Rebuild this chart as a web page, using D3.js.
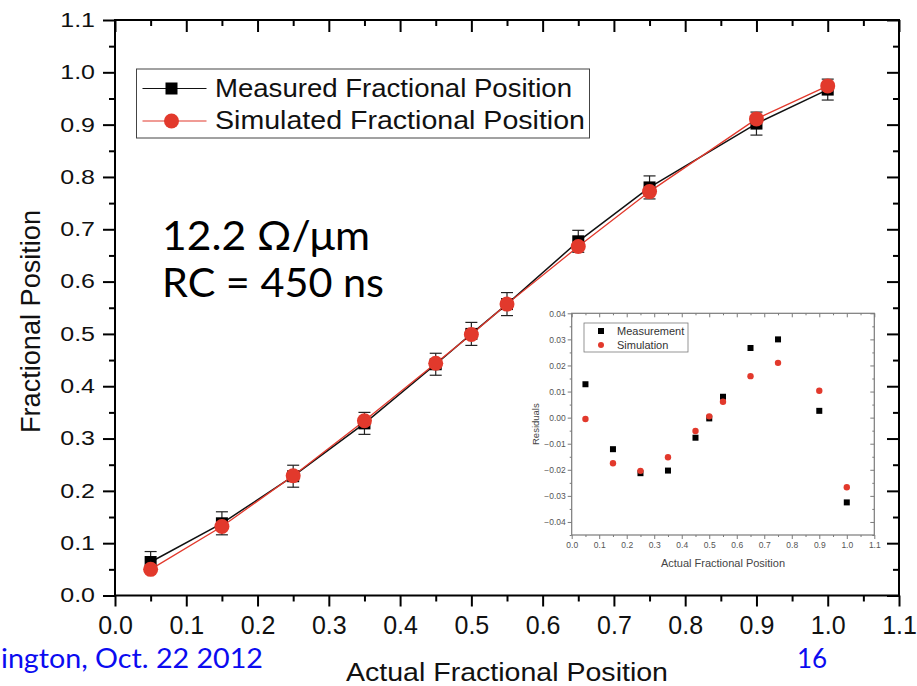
<!DOCTYPE html>
<html>
<head>
<meta charset="utf-8">
<script src="https://cdn.jsdelivr.net/npm/d3@7"></script>
<style>
  body { margin: 0; background: #fff; }
  svg { display: block; }
</style>
</head>
<body>
<div id="chart"></div>
<script>
// actual fractional positions (x) shared by every series
const positions = [0.05, 0.15, 0.25, 0.35, 0.45, 0.5, 0.55, 0.65, 0.75, 0.9, 1.0];
const measured = [0.064, 0.138, 0.228, 0.329, 0.442, 0.500, 0.557, 0.677, 0.780, 0.902, 0.967];
const measuredError = [0.020, 0.022, 0.021, 0.021, 0.021, 0.022, 0.022, 0.021, 0.022, 0.022, 0.020];
const simulated = [0.050, 0.132, 0.229, 0.334, 0.444, 0.499, 0.557, 0.667, 0.772, 0.911, 0.974];
const residualMeasured = [0.0128, -0.0121, -0.0213, -0.0203, -0.0077, -0.0003, 0.0080, 0.0267, 0.0300, 0.0026, -0.0325];
const residualSimulated = [-0.0005, -0.0175, -0.0204, -0.0152, -0.0051, 0.0005, 0.0061, 0.0159, 0.0210, 0.0103, -0.0267];

const mainTicks = [0, 0.1, 0.2, 0.3, 0.4, 0.5, 0.6, 0.7, 0.8, 0.9, 1.0, 1.1];
const mainMinor = [0.05, 0.15, 0.25, 0.35, 0.45, 0.55, 0.65, 0.75, 0.85, 0.95, 1.05];
const insetXTicks = mainTicks;
const insetXMinor = mainMinor;
const insetYTicks = [-0.04, -0.03, -0.02, -0.01, 0, 0.01, 0.02, 0.03, 0.04];
const insetYMinor = [-0.045, -0.035, -0.025, -0.015, -0.005, 0.005, 0.015, 0.025, 0.035];

const legendNames = ["Measured Fractional Position", "Simulated Fractional Position"];
const insetLegendNames = ["Measurement", "Simulation"];

const red = "#e2392c";
const font = "'Liberation Sans', Arial, Helvetica, sans-serif";
const slideFont = "Lato, 'Open Sans', sans-serif";

const svg = d3.select("#chart").append("svg")
    .attr("width", 917)
    .attr("height", 686)
    .style("font-family", font);

// draws one side of a frame: minor ticks first, then major ticks (+labels)
function side(g, axisFn, scale, major, minor, len, minorLen, fmt, color, width) {
    g.append("g").call(axisFn(scale).tickValues(minor).tickSize(minorLen).tickFormat(""));
    const a = g.append("g").call(axisFn(scale).tickValues(major).tickSize(len).tickFormat(fmt || ""));
    g.selectAll(".domain").remove();
    g.selectAll("line").attr("stroke", color).attr("stroke-width", width);
    return a;
}

// ---------- main chart ----------
const x = d3.scaleLinear().domain([0, 1.1]).range([115, 899]);
const y = d3.scaleLinear().domain([0, 1.1]).range([595.5, 20]);

const main = svg.append("g");

const bottom = side(main.append("g").attr("transform", `translate(0,${y(0)})`),
    d3.axisBottom, x, mainTicks, mainMinor, 11, 6, d3.format(".1f"), "#000", 2);
bottom.selectAll("text").attr("y", 21).style("font-size", "25px").attr("fill", "#111");
side(main.append("g").attr("transform", `translate(0,${y(1.1)})`),
    d3.axisBottom, x, mainTicks, mainMinor, 12, 6, null, "#000", 2);
const left = side(main.append("g").attr("transform", `translate(${x(0)},0)`),
    d3.axisLeft, y, mainTicks, mainMinor, 12, 6, d3.format(".1f"), "#000", 2);
left.selectAll("text").attr("x", -16).attr("transform", "scale(1.25,1)")
    .style("font-size", "20px").attr("fill", "#111");
side(main.append("g").attr("transform", `translate(${x(1.1)},0)`),
    d3.axisLeft, y, mainTicks, mainMinor, 12, 6, null, "#000", 2);

main.append("rect")
    .attr("x", x(0)).attr("y", y(1.1))
    .attr("width", x(1.1) - x(0)).attr("height", y(0) - y(1.1))
    .attr("fill", "none").attr("stroke", "#000").attr("stroke-width", 2);

main.append("text")
    .attr("transform", "translate(40,321.5) rotate(-90)")
    .attr("text-anchor", "middle")
    .attr("textLength", 223).attr("lengthAdjust", "spacingAndGlyphs")
    .style("font-size", "27px").attr("fill", "#111")
    .text("Fractional Position");
main.append("text")
    .attr("x", 507).attr("y", 681)
    .attr("text-anchor", "middle")
    .attr("textLength", 322).attr("lengthAdjust", "spacingAndGlyphs")
    .style("font-size", "26px").attr("fill", "#111")
    .text("Actual Fractional Position");

const measuredPts = positions.map((p, i) => ({ x: p, y: measured[i], e: measuredError[i] }));
const simulatedPts = positions.map((p, i) => ({ x: p, y: simulated[i] }));
const line = d3.line().x(d => x(d.x)).y(d => y(d.y));

main.append("path").datum(measuredPts).attr("d", line)
    .attr("fill", "none").attr("stroke", "#111").attr("stroke-width", 1.5);
main.append("path").datum(simulatedPts).attr("d", line)
    .attr("fill", "none").attr("stroke", red).attr("stroke-width", 1.3);

const bars = main.append("g").attr("stroke", "#222").attr("stroke-width", 1.2);
for (let d of measuredPts) {
    bars.append("line").attr("x1", x(d.x)).attr("x2", x(d.x))
        .attr("y1", y(d.y + d.e)).attr("y2", y(d.y - d.e));
    for (let v of [d.y + d.e, d.y - d.e]) {
        bars.append("line").attr("x1", x(d.x) - 6).attr("x2", x(d.x) + 6)
            .attr("y1", y(v)).attr("y2", y(v));
    }
}

main.append("g").selectAll("rect").data(measuredPts).join("rect")
    .attr("x", d => x(d.x) - 6).attr("y", d => y(d.y) - 6)
    .attr("width", 12).attr("height", 12).attr("fill", "#000");
main.append("g").selectAll("circle").data(simulatedPts).join("circle")
    .attr("cx", d => x(d.x)).attr("cy", d => y(d.y))
    .attr("r", 7.5).attr("fill", red);

// legend
const legend = main.append("g").attr("transform", "translate(136.5,69)");
legend.append("rect").attr("width", 453).attr("height", 69)
    .attr("fill", "#fff").attr("stroke", "#444").attr("stroke-width", 1);
legendNames.forEach((name, i) => {
    const row = legend.append("g").attr("transform", `translate(0,${19.5 + i * 32.5})`);
    row.append("line").attr("x1", 6).attr("x2", 70)
        .attr("stroke", i ? red : "#111").attr("stroke-width", 1.2);
    if (i) row.append("circle").attr("cx", 35).attr("r", 7.5).attr("fill", red);
    else row.append("rect").attr("x", 29).attr("y", -6).attr("width", 12).attr("height", 12).attr("fill", "#000");
    row.append("text").attr("x", 78.5).attr("y", 8)
        .attr("textLength", i ? 370 : 357).attr("lengthAdjust", "spacingAndGlyphs")
        .style("font-size", "26px").attr("fill", "#111").text(name);
});

// slide annotations
const note = svg.append("g").style("font-family", slideFont).attr("fill", "#000").style("font-size", "40px");
note.append("text").attr("x", 162).attr("y", 250)
    .attr("textLength", 208).attr("lengthAdjust", "spacingAndGlyphs").text("12.2 Ω/μm");
note.append("text").attr("x", 162).attr("y", 297)
    .attr("textLength", 222).attr("lengthAdjust", "spacingAndGlyphs").text("RC = 450 ns");

const footer = svg.append("g").style("font-family", slideFont).attr("fill", "#0b0bf0").style("font-size", "26px");
footer.append("text").attr("x", 1).attr("y", 668)
    .attr("textLength", 262).attr("lengthAdjust", "spacingAndGlyphs").text("ington, Oct. 22 2012");
footer.append("text").attr("x", 797).attr("y", 668).text("16");

// ---------- inset residuals ----------
const ix = d3.scaleLinear().domain([0, 1.1]).range([571.7, 874.3]);
const iy = d3.scaleLinear().domain([-0.045, 0.04]).range([535, 313.3]);
const inset = svg.append("g");
const gray = "#7a7a7a";

inset.append("rect").attr("x", 527).attr("y", 303).attr("width", 353).attr("height", 270).attr("fill", "#fff");

const ib = side(inset.append("g").attr("transform", `translate(0,${iy(-0.045)})`),
    d3.axisBottom, ix, insetXTicks, insetXMinor, 4, 2, d3.format(".1f"), gray, 1);
ib.selectAll("text").attr("y", 7).style("font-size", "8.5px").attr("fill", "#555");
side(inset.append("g").attr("transform", `translate(0,${iy(0.04)})`),
    d3.axisBottom, ix, insetXTicks, insetXMinor, 4, 2, null, gray, 1);
const il = side(inset.append("g").attr("transform", `translate(${ix(0)},0)`),
    d3.axisLeft, iy, insetYTicks, insetYMinor, 4, 2, d3.format(".2f"), gray, 1);
il.selectAll("text").attr("x", -6).style("font-size", "8.5px").attr("fill", "#555");
side(inset.append("g").attr("transform", `translate(${ix(1.1)},0)`),
    d3.axisLeft, iy, insetYTicks, insetYMinor, 4, 2, null, gray, 1);

inset.append("rect")
    .attr("x", ix(0)).attr("y", iy(0.04))
    .attr("width", ix(1.1) - ix(0)).attr("height", iy(-0.045) - iy(0.04))
    .attr("fill", "none").attr("stroke", gray).attr("stroke-width", 1.2);

inset.append("text")
    .attr("transform", `translate(539,${(iy(0.04) + iy(-0.045)) / 2}) rotate(-90)`)
    .attr("text-anchor", "middle").style("font-size", "9.5px").attr("fill", "#444")
    .text("Residuals");
inset.append("text")
    .attr("x", (ix(0) + ix(1.1)) / 2).attr("y", 567)
    .attr("text-anchor", "middle").style("font-size", "11px").attr("fill", "#444")
    .text("Actual Fractional Position");

inset.append("g").selectAll("rect").data(positions).join("rect")
    .attr("x", (d) => ix(d) - 3).attr("y", (d, i) => iy(residualMeasured[i]) - 3)
    .attr("width", 6).attr("height", 6).attr("fill", "#000");
inset.append("g").selectAll("circle").data(positions).join("circle")
    .attr("cx", d => ix(d)).attr("cy", (d, i) => iy(residualSimulated[i]))
    .attr("r", 3.2).attr("fill", red);

const il2 = inset.append("g").attr("transform", "translate(584,323)");
il2.append("rect").attr("width", 104).attr("height", 29)
    .attr("fill", "#fff").attr("stroke", gray).attr("stroke-width", 0.8);
insetLegendNames.forEach((name, i) => {
    const row = il2.append("g").attr("transform", `translate(0,${8 + i * 14})`);
    if (i) row.append("circle").attr("cx", 17).attr("r", 3).attr("fill", red);
    else row.append("rect").attr("x", 14).attr("y", -3).attr("width", 6).attr("height", 6).attr("fill", "#000");
    row.append("text").attr("x", 33).attr("y", 4).style("font-size", "11px")
        .attr("fill", "#333").text(name);
});
</script>
</body>
</html>
